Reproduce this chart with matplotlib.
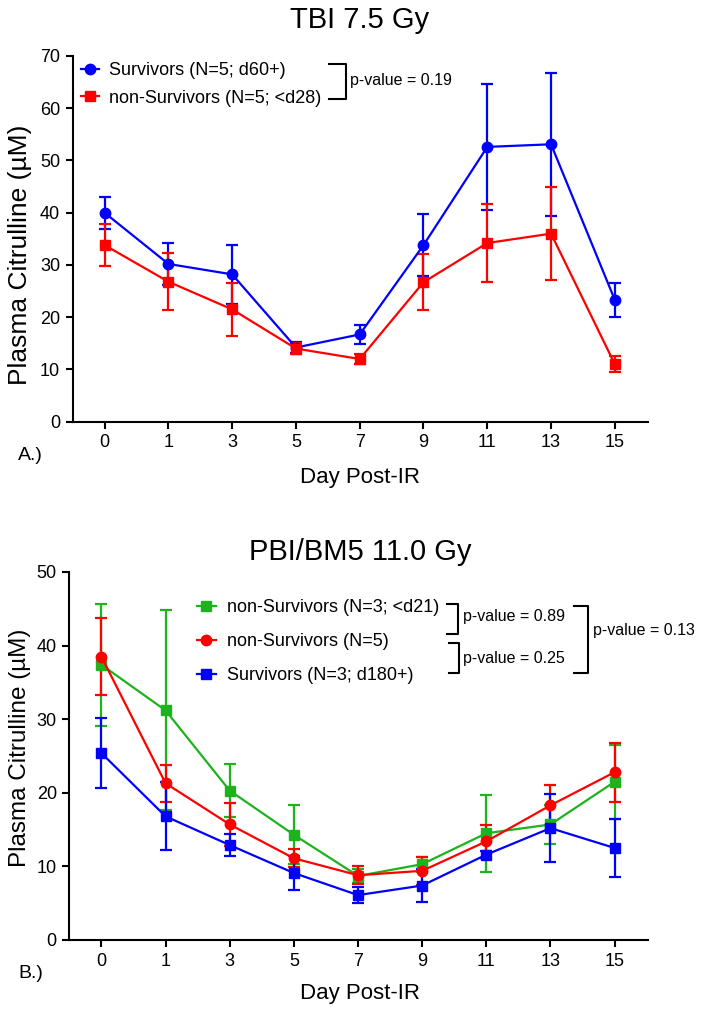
import matplotlib
matplotlib.use("Agg")
import matplotlib.pyplot as plt
from matplotlib.lines import Line2D
import numpy as np

plt.rcParams['font.family'] = ['Liberation Sans', 'DejaVu Sans']

W, H = 704, 1016

days = ["0", "1", "3", "5", "7", "9", "11", "13", "15"]

# Panel A: TBI 7.5 Gy
a_labels = ['Survivors (N=5; d60+)', 'non-Survivors (N=5; <d28)']
a_surv_mean = [40.0, 30.2, 28.2, 14.2, 16.7, 33.8, 52.6, 53.1, 23.3]
a_surv_err = [3.1, 4.0, 5.6, 1.0, 1.9, 5.9, 12.1, 13.7, 3.3]
a_non_mean = [33.8, 26.8, 21.5, 14.0, 12.0, 26.7, 34.2, 36.0, 11.0]
a_non_err = [4.0, 5.5, 5.1, 1.0, 0.9, 5.4, 7.4, 8.9, 1.5]

# Panel B: PBI/BM5 11.0 Gy
b_labels = ['non-Survivors (N=3; <d21)', 'non-Survivors (N=5)', 'Survivors (N=3; d180+)']
b_non3_mean = [37.4, 31.2, 20.3, 14.3, 8.7, 10.3, 14.5, 15.7, 21.5]
b_non3_err = [8.3, 13.6, 3.6, 4.0, 1.0, 1.0, 5.2, 2.7, 5.0]
b_non5_mean = [38.5, 21.3, 15.7, 11.1, 8.8, 9.4, 13.4, 18.3, 22.8]
b_non5_err = [5.2, 2.5, 2.9, 1.2, 1.2, 1.9, 2.2, 2.7, 4.0]
b_surv_mean = [25.4, 16.8, 12.9, 9.1, 6.1, 7.4, 11.6, 15.2, 12.5]
b_surv_err = [4.8, 4.6, 1.5, 2.3, 1.1, 2.2, 0.5, 4.6, 4.0]

BLUE = '#0000FF'
RED = '#FF0000'
GREEN = '#1DB31D'

fig = plt.figure(figsize=(W / 100, H / 100), dpi=100)


def fx(x):
    return x / W


def fy(y):
    return 1 - y / H


def make_axes(left, right, top, bottom):
    return fig.add_axes([fx(left), fy(bottom), (right - left) / W, (bottom - top) / H])


def style_axes(ax, ymax):
    for s in ['top', 'right']:
        ax.spines[s].set_visible(False)
    for s in ['left', 'bottom']:
        ax.spines[s].set_linewidth(1.5)
    ax.tick_params(direction='out', length=5, width=1.5, labelsize=13, pad=4)
    ax.set_xlim(-0.5, 8.52)
    ax.set_ylim(0, ymax)
    ax.set_xticks(range(len(days)))
    ax.set_xticklabels(days)
    ax.set_yticks(np.arange(0, ymax + 1, 10))


def series(ax, mean, err, color, marker, ms):
    x = np.arange(len(mean))
    c = ax.errorbar(x, mean, yerr=err, color=color, marker=marker, markersize=ms,
                    linewidth=1.6, elinewidth=1.6, capsize=4, capthick=1.6,
                    clip_on=False)
    return c.lines[0]


def bracket(x0, x1, y0, y1):
    xs = [fx(x0), fx(x1), fx(x1), fx(x0)]
    ys = [fy(y0), fy(y0), fy(y1), fy(y1)]
    fig.add_artist(Line2D(xs, ys, color='black', linewidth=1.5,
                          transform=fig.transFigure))


# ---------------- Panel A ----------------
axA = make_axes(72.7, 648, 56, 421.7)
style_axes(axA, 70)
hA1 = series(axA, a_surv_mean, a_surv_err, BLUE, 'o', 7.5)
hA2 = series(axA, a_non_mean, a_non_err, RED, 's', 7)
fig.text(fx(360), fy(20), 'TBI 7.5 Gy', fontsize=21, ha='center', va='center')
fig.text(fx(20), fy(255), 'Plasma Citrulline (\u00b5M)', fontsize=19, rotation=90,
         ha='center', va='center')
fig.text(fx(360), fy(478), 'Day Post-IR', fontsize=16, ha='center', va='center')
fig.text(fx(18), fy(455), 'A.)', fontsize=14, ha='left', va='center')
axA.legend(handles=[hA1, hA2], labels=a_labels,
           loc='upper left', bbox_to_anchor=(fx(80.7), fy(62)),
           bbox_transform=fig.transFigure, frameon=False, fontsize=13,
           borderpad=0, borderaxespad=0, handlelength=1.03,
           handletextpad=0.54, labelspacing=0.59)
bracket(329, 345.7, 64, 99)
fig.text(fx(350), fy(81), 'p-value = 0.19', fontsize=11.5, ha='left', va='center')

# ---------------- Panel B ----------------
axB = make_axes(69.3, 648, 572, 940)
style_axes(axB, 50)
hB1 = series(axB, b_non3_mean, b_non3_err, GREEN, 's', 7)
hB2 = series(axB, b_non5_mean, b_non5_err, RED, 'o', 7.5)
hB3 = series(axB, b_surv_mean, b_surv_err, BLUE, 's', 7)
fig.text(fx(360), fy(552), 'PBI/BM5 11.0 Gy', fontsize=21, ha='center', va='center')
fig.text(fx(20), fy(748), 'Plasma Citrulline (\u00b5M)', fontsize=17.5, rotation=90,
         ha='center', va='center')
fig.text(fx(360), fy(994), 'Day Post-IR', fontsize=16, ha='center', va='center')
fig.text(fx(18), fy(973), 'B.)', fontsize=14, ha='left', va='center')
axB.legend(handles=[hB1, hB2, hB3], labels=b_labels,
           loc='upper left', bbox_to_anchor=(fx(197), fy(599)),
           bbox_transform=fig.transFigure, frameon=False, fontsize=13,
           borderpad=0, borderaxespad=0, handlelength=1.05,
           handletextpad=0.59, labelspacing=0.95)
bracket(447, 458, 604, 634)
fig.text(fx(463), fy(617), 'p-value = 0.89', fontsize=11.5, ha='left', va='center')
bracket(449, 459, 643, 673)
fig.text(fx(463), fy(658), 'p-value = 0.25', fontsize=11.5, ha='left', va='center')
bracket(574, 588, 606, 673)
fig.text(fx(593), fy(630), 'p-value = 0.13', fontsize=11.5, ha='left', va='center')

fig.savefig('out.png', dpi=100)
